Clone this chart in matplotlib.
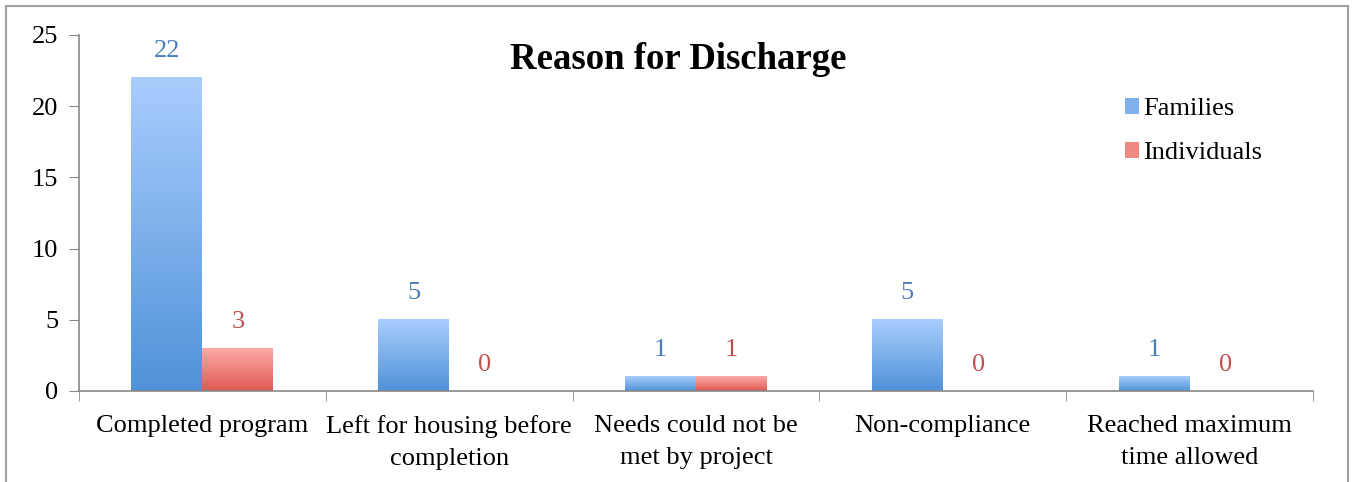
import numpy as np
import matplotlib
matplotlib.use("Agg")
import matplotlib.pyplot as plt
from matplotlib.patches import Rectangle
from matplotlib.colors import LinearSegmentedColormap

categories = ["Completed program", "Left for housing before\ncompletion",
              "Needs could not be\nmet by project", "Non-compliance",
              "Reached maximum\ntime allowed"]
families = [22, 5, 1, 5, 1]
individuals = [3, 0, 1, 0, 0]
series_names = ["Families", "Individuals"]

plt.rcParams['font.family'] = 'serif'
plt.rcParams['font.serif'] = ['Liberation Serif', 'DejaVu Serif']
FS = 19

blue_cmap = LinearSegmentedColormap.from_list("b", ["#4f92d8", "#aacdfd"])
red_cmap = LinearSegmentedColormap.from_list("r", ["#dd5a52", "#fdaaa7"])

fig = plt.figure(figsize=(13.52, 4.82), dpi=100)
ax = fig.add_axes([0.0584, 0.1888, 0.9128, 0.7386])

# outer border
fig.patches.append(Rectangle((6 / 1352, -0.1), 1342 / 1352, 1.1 - 6 / 482,
                             transform=fig.transFigure, fill=False,
                             edgecolor="#a0a0a0", linewidth=1.5))

x = np.arange(len(categories))
w = 0.2875
b1 = ax.bar(x - w / 2, families, w, color="#7eb0ec", label=series_names[0])
b2 = ax.bar(x + w / 2, individuals, w, color="#f08884", label=series_names[1])

grad = np.linspace(0, 1, 256).reshape(-1, 1)
for bars, cmap in ((b1, blue_cmap), (b2, red_cmap)):
    for p in bars:
        h = p.get_height()
        if h <= 0:
            continue
        x0 = p.get_x()
        ax.imshow(grad, cmap=cmap, origin="lower", aspect="auto",
                  extent=(x0, x0 + p.get_width(), 0, h), zorder=2)
        p.set_alpha(0)

for i in range(len(categories)):
    ax.annotate(str(families[i]), (x[i] - w / 2, families[i]), xytext=(0, 19),
                textcoords="offset points", ha="center", va="center",
                color="#4a7ebb", fontsize=FS)
    ax.annotate(str(individuals[i]), (x[i] + w / 2, individuals[i]), xytext=(0, 19),
                textcoords="offset points", ha="center", va="center",
                color="#c0504d", fontsize=FS)

ax.set_xlim(-0.5, len(categories) - 0.5)
ax.set_ylim(0, 25)
ax.set_yticks([0, 5, 10, 15, 20, 25])
ax.set_xticks(x)
ax.set_xticklabels(categories, fontsize=FS, linespacing=1.6)
ax.set_xticks(np.arange(len(categories) + 1) - 0.5, minor=True)
ax.tick_params(axis="x", which="major", length=0, pad=17)
ax.tick_params(axis="x", which="minor", length=7, color="#888888", direction="out")
ax.tick_params(axis="y", labelsize=FS, length=7, color="#888888", direction="out", pad=8)
for s in ("top", "right"):
    ax.spines[s].set_visible(False)
for s in ("left", "bottom"):
    ax.spines[s].set_color("#888888")
    ax.spines[s].set_linewidth(1.2)

fig.text(0.502, 0.876, "Reason for Discharge", fontsize=26.5, fontweight="bold",
         ha="center", va="center")

leg = ax.legend(loc="upper left", bbox_to_anchor=(0.828, 0.89), frameon=False,
                fontsize=FS, handlelength=0.55, handleheight=0.55,
                handletextpad=0.15, labelspacing=0.82)
leg.legend_handles[0].set_alpha(1)
leg.legend_handles[1].set_alpha(1)

fig.savefig("out.png", dpi=100)
